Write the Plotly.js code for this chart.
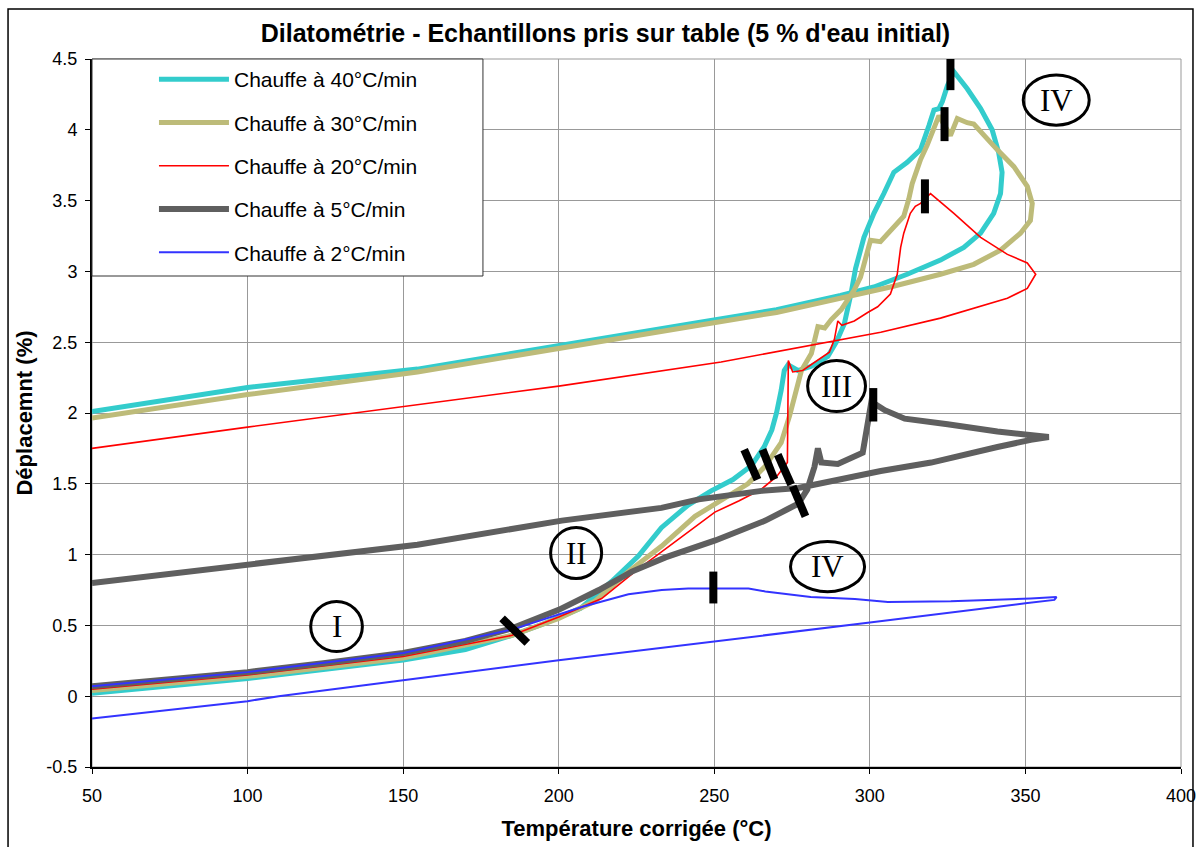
<!DOCTYPE html>
<html>
<head>
<meta charset="utf-8">
<script src="https://cdn.plot.ly/plotly-3.0.1.min.js"></script>
<style>
  html, body { margin: 0; padding: 0; background: #ffffff; }
  #chart { width: 1198px; height: 847px; }
</style>
</head>
<body>
<div id="chart"></div>
<script>
// ---------- DATA ----------
const seriesNames = ['Chauffe à 40°C/min', 'Chauffe à 30°C/min', 'Chauffe à 20°C/min', 'Chauffe à 5°C/min', 'Chauffe à 2°C/min'];

// 40 °C/min
const temp40 = [50, 75, 100, 125, 150, 170, 185, 195, 207, 217, 225.6, 233, 241.6, 249, 256, 262, 266, 268.5, 270, 271.5, 272.5, 273.7, 276.9, 281.2, 286.5, 289.2, 291.8, 294, 295.4, 298.1, 301.3, 304.5, 307.7, 312, 316.3, 319, 320.6, 322.2, 323.3, 324.9, 327, 331.3, 335.6, 339.3, 341.4, 342.5, 342, 339.8, 335.6, 330.2, 322.7, 312, 301.3, 290.6, 270, 245, 200, 154.6, 100, 50];
const depl40 = [0.02, 0.07, 0.125, 0.19, 0.255, 0.33, 0.43, 0.51, 0.62, 0.81, 0.99, 1.19, 1.35, 1.45, 1.53, 1.63, 1.76, 1.88, 2.0, 2.16, 2.30, 2.34, 2.30, 2.33, 2.40, 2.50, 2.63, 2.85, 3.02, 3.24, 3.41, 3.55, 3.70, 3.77, 3.86, 4.03, 4.14, 4.15, 4.20, 4.31, 4.41, 4.29, 4.15, 4.0, 3.84, 3.70, 3.55, 3.41, 3.27, 3.17, 3.08, 2.98, 2.89, 2.83, 2.73, 2.64, 2.48, 2.31, 2.18, 2.01];

// 30 °C/min
const temp30 = [50, 100, 150, 185, 200, 211.6, 222.4, 233.1, 243.8, 252.3, 260.8, 266.2, 271.5, 274.2, 276.4, 278, 281.2, 283.3, 285.5, 287.6, 290.8, 293, 295, 297, 300.2, 303.4, 306.6, 308.8, 310.9, 312.5, 313.6, 316.3, 318.4, 322.2, 325.9, 328.1, 331.3, 333.4, 336.6, 340.9, 346.3, 350.6, 352.2, 351.6, 348.4, 342, 333.4, 322.7, 306.6, 290.6, 270, 245, 200, 154.6, 100, 50];
const depl30 = [0.04, 0.14, 0.27, 0.43, 0.55, 0.67, 0.88, 1.06, 1.27, 1.39, 1.50, 1.62, 1.79, 1.98, 2.16, 2.30, 2.42, 2.61, 2.60, 2.66, 2.73, 2.80, 2.87, 2.96, 3.22, 3.21, 3.29, 3.34, 3.39, 3.51, 3.62, 3.79, 3.89, 4.10, 3.96, 4.08, 4.05, 4.04, 3.96, 3.86, 3.74, 3.60, 3.48, 3.36, 3.27, 3.15, 3.05, 2.98, 2.89, 2.81, 2.71, 2.62, 2.46, 2.29, 2.13, 1.965];

// 20 °C/min
const temp20 = [50, 100, 150, 185, 200, 213.8, 224.5, 233.1, 243.8, 250.2, 258, 265, 270, 273.5, 273.8, 275.2, 278.4, 281.1, 284, 287, 288.6, 289.7, 291, 295, 299.3, 302.5, 306.6, 308.8, 309.9, 310.9, 313, 314.6, 316.3, 319.5, 327, 335.6, 344.2, 350.6, 353.3, 350.6, 344.2, 333.4, 322.7, 303.5, 252.2, 200, 154.6, 100, 50];
const depl20 = [0.05, 0.15, 0.28, 0.43, 0.56, 0.69, 0.88, 1.02, 1.20, 1.30, 1.38, 1.46, 1.55, 1.65, 2.37, 2.29, 2.30, 2.34, 2.38, 2.43, 2.52, 2.65, 2.62, 2.65, 2.71, 2.75, 2.84, 2.98, 3.17, 3.27, 3.41, 3.46, 3.48, 3.55, 3.41, 3.24, 3.12, 3.06, 2.98, 2.88, 2.81, 2.74, 2.67, 2.57, 2.36, 2.19, 2.06, 1.90, 1.75];

// 5 °C/min
const temp5 = [50, 75, 100, 125, 150, 170, 185, 200, 212.9, 223.5, 234.3, 250.3, 266.4, 273.5, 277, 279.9, 282.2, 283.3, 284.4, 289.7, 295, 297.7, 298.8, 299.8, 300.5, 304.8, 311.2, 325, 341, 357.5, 351.7, 341, 319.7, 303.5, 277, 265.2, 245, 233, 201, 154.6, 100, 50];
const depl5 = [0.07, 0.12, 0.17, 0.235, 0.305, 0.39, 0.48, 0.61, 0.75, 0.88, 0.98, 1.10, 1.24, 1.32, 1.36, 1.46, 1.62, 1.75, 1.65, 1.64, 1.69, 1.72, 1.86, 2.04, 2.08, 2.02, 1.96, 1.92, 1.87, 1.83, 1.81, 1.76, 1.65, 1.59, 1.47, 1.45, 1.39, 1.33, 1.24, 1.07, 0.93, 0.80];

// 2 °C/min
const temp2 = [50, 100, 150, 185, 207.4, 222.4, 233.1, 241.6, 261, 266.4, 281, 295.2, 305.8, 326, 351.7, 360, 359.3, 350, 300, 250, 213.8, 200, 150, 110, 100, 50];
const depl2 = [0.07, 0.17, 0.305, 0.47, 0.63, 0.72, 0.75, 0.76, 0.76, 0.74, 0.70, 0.686, 0.665, 0.67, 0.69, 0.70, 0.68, 0.656, 0.52, 0.386, 0.29, 0.254, 0.113, 0.0, -0.035, -0.158];

// axis ticks
const xTickVals = [50, 100, 150, 200, 250, 300, 350, 400];
const xTickText = ['50', '100', '150', '200', '250', '300', '350', '400'];
const yTickVals = [-0.5, 0, 0.5, 1, 1.5, 2, 2.5, 3, 3.5, 4, 4.5];
const yTickText = ['-0.5', '0', '0.5', '1', '1.5', '2', '2.5', '3', '3.5', '4', '4.5'];

// phase labels (roman numerals)
const phaseLabels = ['I', 'II', 'III', 'IV', 'IV'];

// ---------- STYLE ----------
const FONT = 'Arial, "Liberation Sans", sans-serif';
const SERIF = '"Times New Roman", "Liberation Serif", serif';
const colors = ['#33CCCC', '#BDBB79', '#FF0000', '#5F5F5F', '#3333FF'];
const widths = [5, 5, 1.6, 6, 2];

const xs = [temp40, temp30, temp20, temp5, temp2];
const ys = [depl40, depl30, depl20, depl5, depl2];

const traces = xs.map((x, i) => ({
  type: 'scatter',
  mode: 'lines',
  x: x,
  y: ys[i],
  name: seriesNames[i],
  legendgroup: 'g' + i,
  line: { color: colors[i], width: widths[i] },
  hoverinfo: 'x+y+name'
}));

// phase ellipses: centre and half sizes (layout only)
const phasePos = [
  { cx: 128.6, cy: 0.492, hx: 8.3, hy: 0.177 },
  { cx: 205.6, cy: 1.011, hx: 8.2, hy: 0.18 },
  { cx: 289.3, cy: 2.19, hx: 9.3, hy: 0.18 },
  { cx: 286.4, cy: 0.915, hx: 11.9, hy: 0.177 },
  { cx: 359.9, cy: 4.21, hx: 10.6, hy: 0.177 }
];

// thick black transition markers (layout only)
const markerSegs = [
  [181.8, 0.55, 189.9, 0.376],
  [249.7, 0.655, 249.7, 0.88],
  [301.1, 1.94, 301.1, 2.176],
  [259.6, 1.742, 263.9, 1.53],
  [265.5, 1.742, 269.3, 1.53],
  [270.4, 1.706, 274.7, 1.495],
  [275.2, 1.483, 279.3, 1.27],
  [317.7, 3.41, 317.7, 3.65],
  [324.0, 3.92, 324.0, 4.16],
  [325.9, 4.28, 325.9, 4.55]
];

const shapes = [];
// plot-area border (grey)
shapes.push({ type: 'rect', xref: 'paper', yref: 'paper', x0: 0, x1: 1, y0: 0, y1: 1,
  line: { color: '#999999', width: 1 }, layer: 'below' });
// outer chart frame
shapes.push({ type: 'rect', xref: 'paper', yref: 'paper', x0: -0.0771, x1: 1.0110, y0: -0.25, y1: 1.0706,
  line: { color: '#000000', width: 1.5 }, fillcolor: 'rgba(0,0,0,0)', layer: 'above' });
// legend box
shapes.push({ type: 'rect', xref: 'paper', yref: 'paper', x0: 0, x1: 0.359, y0: 0.6935, y1: 1,
  line: { color: '#333333', width: 1 }, fillcolor: '#ffffff', layer: 'above' });

markerSegs.forEach(s => shapes.push({ type: 'line', xref: 'x', yref: 'y',
  x0: s[0], y0: s[1], x1: s[2], y1: s[3], line: { color: '#000000', width: 8 }, layer: 'above' }));

phasePos.forEach(p => shapes.push({ type: 'circle', xref: 'x', yref: 'y',
  x0: p.cx - p.hx, x1: p.cx + p.hx, y0: p.cy - p.hy, y1: p.cy + p.hy,
  line: { color: '#000000', width: 3 }, fillcolor: 'rgba(255,255,255,0)', layer: 'above' }));

const annotations = phasePos.map((p, i) => ({
  x: p.cx, y: p.cy, xref: 'x', yref: 'y', text: phaseLabels[i], showarrow: false,
  font: { family: SERIF, size: 31, color: '#000000' }, xanchor: 'center', yanchor: 'middle'
}));

const layout = {
  width: 1198, height: 847,
  paper_bgcolor: '#ffffff', plot_bgcolor: '#ffffff',
  margin: { l: 92, r: 17, t: 59, b: 80, pad: 0 },
  font: { family: FONT, color: '#000000' },
  title: {
    text: "Dilatométrie - Echantillons pris sur table (5 % d'eau initial)",
    font: { family: FONT, size: 25, color: '#000000', weight: 'bold' },
    x: 0.5054, xref: 'container', xanchor: 'center',
    y: 0.961, yref: 'container', yanchor: 'middle'
  },
  xaxis: {
    range: [50, 400], tickvals: xTickVals, ticktext: xTickText,
    showgrid: true, gridcolor: '#999999', gridwidth: 1, zeroline: false,
    showline: true, linecolor: '#000000', linewidth: 2,
    ticks: 'outside', ticklen: 5, tickcolor: '#000000', tickwidth: 1,
    ticklabelstandoff: 6,
    tickfont: { family: FONT, size: 18, color: '#000000' },
    title: { text: 'Température corrigée (°C)', standoff: 16,
      font: { family: FONT, size: 22, color: '#000000', weight: 'bold' } }
  },
  yaxis: {
    range: [-0.5, 4.5], tickvals: yTickVals, ticktext: yTickText,
    showgrid: true, gridcolor: '#999999', gridwidth: 1, zeroline: false,
    showline: true, linecolor: '#000000', linewidth: 2,
    ticks: 'outside', ticklen: 5, tickcolor: '#000000', tickwidth: 1,
    ticklabelstandoff: 4,
    tickfont: { family: FONT, size: 18, color: '#000000' },
    title: { text: 'Déplacemnt (%)', standoff: 8,
      font: { family: FONT, size: 22, color: '#000000', weight: 'bold' } }
  },
  showlegend: true,
  legend: {
    x: 0.0569, y: 1, xanchor: 'left', yanchor: 'top', xref: 'paper', yref: 'paper',
    bgcolor: 'rgba(0,0,0,0)', borderwidth: 0,
    font: { family: FONT, size: 21, color: '#000000' },
    traceorder: 'grouped', tracegroupgap: 13, itemwidth: 70
  },
  shapes: shapes,
  annotations: annotations
};

Plotly.newPlot('chart', traces, layout, { displayModeBar: false, staticPlot: true });
</script>
</body>
</html>
